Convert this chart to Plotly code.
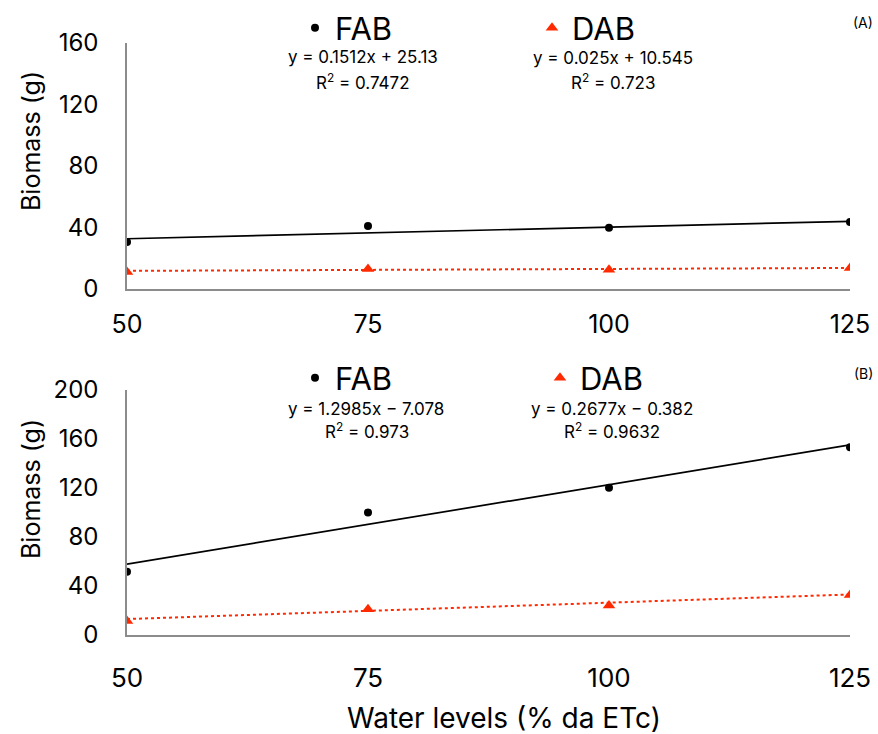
import plotly.graph_objects as go

water_levels = [50, 75, 100, 125]

# Panel A
fab_a = [30.5, 41.0, 39.8, 43.5]
dab_a = [11.0, 13.0, 12.6, 13.6]
# Panel B
fab_b = [51.7, 100.0, 120.3, 153.2]
dab_b = [11.4, 21.0, 24.0, 32.7]

# Trendline coefficients (slope, intercept) as printed on the chart
trend_fab_a = (0.1512, 25.13)
trend_dab_a = (0.025, 10.545)
trend_fab_b = (1.2985, -7.078)
trend_dab_b = (0.2677, -0.382)

eq_fab_a = ["y = 0.1512x + 25.13", "R<sup>2</sup> = 0.7472"]
eq_dab_a = ["y = 0.025x + 10.545", "R<sup>2</sup> = 0.723"]
eq_fab_b = ["y = 1.2985x \u2212 7.078", "R<sup>2</sup> = 0.973"]
eq_dab_b = ["y = 0.2677x \u2212 0.382", "R<sup>2</sup> = 0.9632"]

FONT = "Inter"
RED = "#ff2a00"
W, H = 878, 734
L, R, T, B = 127, 28, 0, 0
PW = W - L - R
PH = H - T - B

def px(x):
    return (x - L) / PW

def py(y):
    return (H - B - y) / PH

def line_y(coef, xs):
    return [coef[0] * x + coef[1] for x in xs]

xs_end = [water_levels[0], water_levels[-1]]

fig = go.Figure()

# Panel A
fig.add_trace(go.Scatter(x=xs_end, y=line_y(trend_fab_a, xs_end), mode="lines",
                         line=dict(color="black", width=1.7), showlegend=False,
                         xaxis="x", yaxis="y"))
fig.add_trace(go.Scatter(x=xs_end, y=line_y(trend_dab_a, xs_end), mode="lines",
                         line=dict(color=RED, width=2, dash="dot"), showlegend=False,
                         xaxis="x", yaxis="y"))
fig.add_trace(go.Scatter(x=water_levels, y=fab_a, mode="markers", name="FAB",
                         marker=dict(color="black", size=8, symbol="circle"),
                         xaxis="x", yaxis="y", legend="legend"))
fig.add_trace(go.Scatter(x=water_levels, y=dab_a, mode="markers", name="DAB",
                         marker=dict(color=RED, size=11, symbol="triangle-up"),
                         xaxis="x", yaxis="y", legend="legend"))

# Panel B
fig.add_trace(go.Scatter(x=xs_end, y=line_y(trend_fab_b, xs_end), mode="lines",
                         line=dict(color="black", width=1.7), showlegend=False,
                         xaxis="x2", yaxis="y2"))
fig.add_trace(go.Scatter(x=xs_end, y=line_y(trend_dab_b, xs_end), mode="lines",
                         line=dict(color=RED, width=2, dash="dot"), showlegend=False,
                         xaxis="x2", yaxis="y2"))
fig.add_trace(go.Scatter(x=water_levels, y=fab_b, mode="markers", name="FAB",
                         marker=dict(color="black", size=8, symbol="circle"),
                         xaxis="x2", yaxis="y2", legend="legend2"))
fig.add_trace(go.Scatter(x=water_levels, y=dab_b, mode="markers", name="DAB",
                         marker=dict(color=RED, size=11, symbol="triangle-up"),
                         xaxis="x2", yaxis="y2", legend="legend2"))

axis_line = dict(showline=True, linecolor="#8c8c8c", linewidth=1.5,
                 showgrid=False, zeroline=False, ticks="", automargin=False)

fig.update_layout(
    width=W, height=H,
    margin=dict(l=L, r=R, t=T, b=B, autoexpand=False),
    plot_bgcolor="white", paper_bgcolor="white",
    font=dict(family=FONT, color="black"),
    xaxis=dict(domain=[0, 1], range=[50, 125], tickvals=water_levels,
               anchor="y", tickfont=dict(size=25), ticklabelstandoff=12,
               **axis_line),
    yaxis=dict(domain=[py(289), py(43)], range=[0, 160], tickvals=[0, 40, 80, 120, 160],
               anchor="x", tickfont=dict(size=24), ticklabelstandoff=22,
               **axis_line),
    xaxis2=dict(domain=[0, 1], range=[50, 125], tickvals=water_levels,
                anchor="y2", tickfont=dict(size=26), ticklabelstandoff=19,
                **axis_line),
    yaxis2=dict(domain=[py(635), py(390)], range=[0, 200], tickvals=[0, 40, 80, 120, 160, 200],
                anchor="x2", tickfont=dict(size=24), ticklabelstandoff=22,
                **axis_line),
    legend=dict(orientation="h", x=px(295), y=py(28), xanchor="left", yanchor="middle",
                font=dict(size=31), entrywidth=192, entrywidthmode="pixels",
                bgcolor="rgba(0,0,0,0)"),
    legend2=dict(orientation="h", x=px(295), y=py(378), xanchor="left", yanchor="middle",
                 font=dict(size=31), entrywidth=200, entrywidthmode="pixels",
                 bgcolor="rgba(0,0,0,0)"),
)

ann = []
def text(x, y, s, size, angle=0):
    ann.append(dict(x=px(x), y=py(y), xref="paper", yref="paper", text=s,
                    showarrow=False, xanchor="center", yanchor="middle",
                    font=dict(size=size, family=FONT, color="black"), textangle=angle))

text(363, 57, eq_fab_a[0], 17)
text(363, 81, eq_fab_a[1], 17)
text(613, 58, eq_dab_a[0], 17)
text(613, 82, eq_dab_a[1], 17)
text(366, 409, eq_fab_b[0], 17)
text(367, 430, eq_fab_b[1], 17)
text(612, 409, eq_dab_b[0], 17)
text(612, 430, eq_dab_b[1], 17)
text(863, 22, "(A)", 14)
text(863, 373, "(B)", 14)
text(31, 141, "Biomass (g)", 25, -90)
text(31, 489, "Biomass (g)", 25, -90)
text(504, 718, "Water levels (% da ETc)", 28)
fig.update_layout(annotations=ann)

fig.write_html("out.html")
